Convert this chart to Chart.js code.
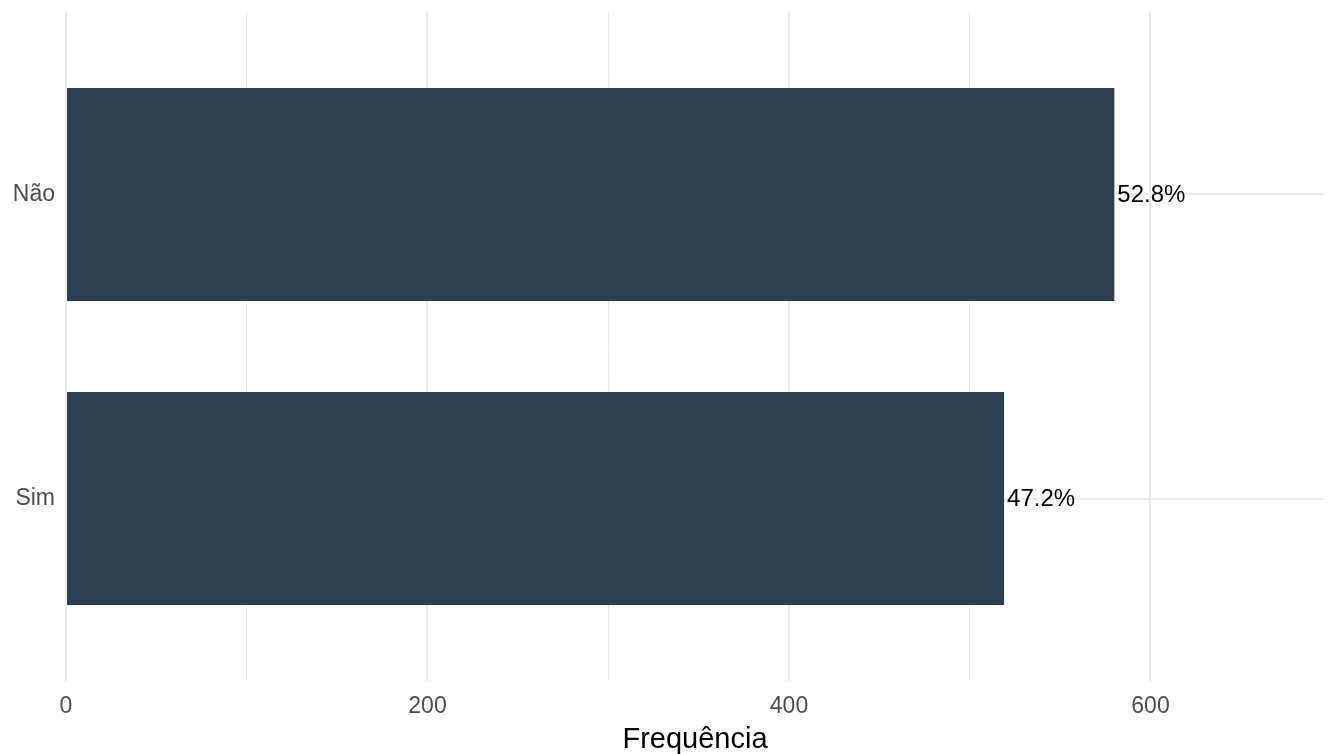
<!DOCTYPE html>
<html>
<head>
<meta charset="utf-8">
<script src="https://cdn.jsdelivr.net/npm/chart.js@4.4.1/dist/chart.umd.min.js"></script>
<style>
  html, body { margin: 0; padding: 0; background: #ffffff; }
  canvas { display: block; }
</style>
</head>
<body>
<canvas id="myChart" width="1333" height="754"></canvas>
<script>
// data
var categories = ['Não', 'Sim'];
var counts = [580, 519];
var pctLabels = ['52.8%', '47.2%'];
var xTicks = [0, 100, 200, 300, 400, 500, 600];
var xMax = 696;

var barColor = '#2C3E50';
var gridColor = '#EBEBEB';
var fontName = '"Liberation Sans", Arial, Helvetica, sans-serif';

// categories go top to bottom, so the first one gets the highest y position
var points = counts.map(function(v, i){
  return { x: v, y: categories.length - i };
});

// writes the percent next to the end of each bar
var barLabels = {
  id: 'barLabels',
  afterDatasetsDraw: function(chart){
    var ctx = chart.ctx;
    var meta = chart.getDatasetMeta(0);
    ctx.save();
    ctx.font = '24px ' + fontName;
    ctx.fillStyle = '#000000';
    ctx.textAlign = 'left';
    ctx.textBaseline = 'middle';
    meta.data.forEach(function(bar, i){
      ctx.fillText(pctLabels[i], bar.x + 3, bar.y + 1);
    });
    ctx.restore();
  }
};

var myChart = document.getElementById('myChart');
var barChart = new Chart(myChart, {
  type: 'bar',
  data: {
    datasets: [{
      data: points,
      backgroundColor: barColor,
      borderWidth: 0,
      barPercentage: 0.7,
      categoryPercentage: 1
    }]
  },
  options: {
    responsive: false,
    animation: false,
    indexAxis: 'y',
    layout: { padding: { top: 12, right: 9, left: 0, bottom: 0 } },
    plugins: {
      legend: { display: false },
      tooltip: { enabled: false }
    },
    scales: {
      x: {
        type: 'linear',
        min: 0,
        max: xMax,
        afterBuildTicks: function(scale){
          scale.ticks = xTicks.map(function(v){ return { value: v }; });
        },
        afterFit: function(scale){ scale.height = 73; },
        border: { display: false },
        grid: {
          color: gridColor,
          lineWidth: function(c){ return (c.tick && c.tick.value % 200 === 0) ? 2 : 1; },
          drawTicks: false
        },
        ticks: {
          color: '#4D4D4D',
          font: { family: fontName, size: 23 },
          padding: 12,
          maxRotation: 0,
          autoSkip: false,
          callback: function(v){ return v % 200 === 0 ? String(v) : ''; }
        },
        title: {
          display: true,
          text: 'Frequência',
          color: '#000000',
          font: { family: fontName, size: 29 },
          padding: { top: 0, bottom: -3 }
        }
      },
      y: {
        type: 'linear',
        offset: false,
        min: 0.4,
        max: categories.length + 0.6,
        afterBuildTicks: function(scale){
          scale.ticks = categories.map(function(c, i){ return { value: categories.length - i }; });
        },
        afterFit: function(scale){
          scale.width = 66;
          // tick labels sit well inside the axis, no room needed at the ends
          scale.paddingTop = 0;
          scale.paddingBottom = 0;
        },
        border: { display: false },
        grid: {
          offset: false,
          color: gridColor,
          lineWidth: 2,
          drawTicks: false
        },
        ticks: {
          color: '#4D4D4D',
          font: { family: fontName, size: 23 },
          padding: 11,
          autoSkip: false,
          callback: function(v){ return categories[categories.length - v]; }
        }
      }
    }
  },
  plugins: [barLabels]
});
</script>
</body>
</html>
